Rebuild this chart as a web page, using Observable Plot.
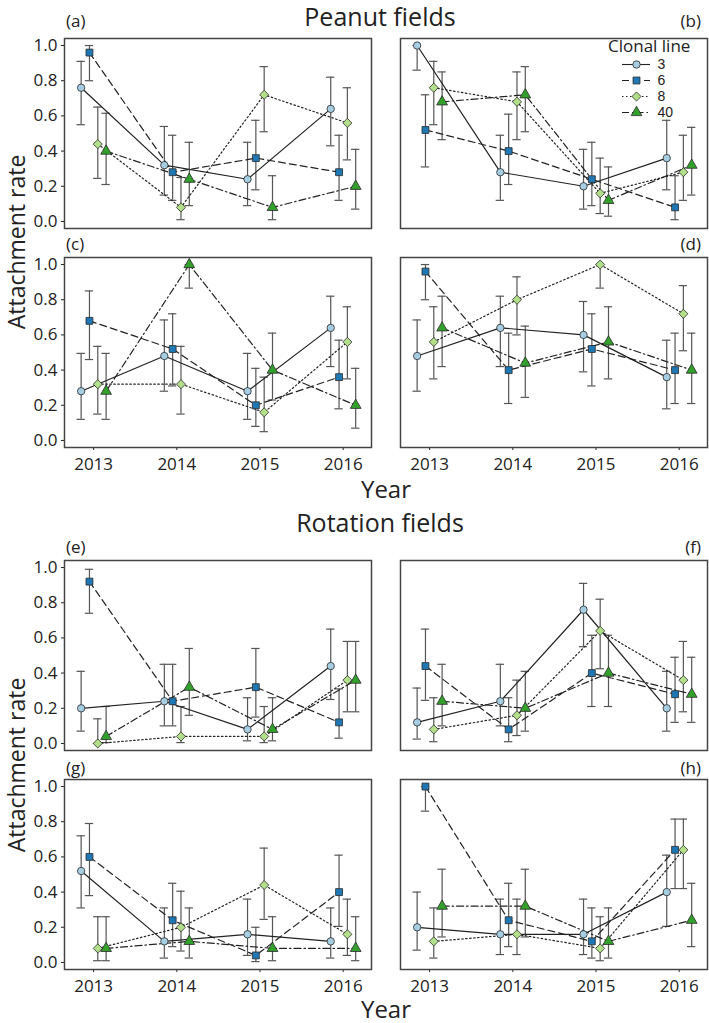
<!DOCTYPE html>
<html><head><meta charset="utf-8">
<script src="https://cdn.jsdelivr.net/npm/d3@7"></script>
<script src="https://cdn.jsdelivr.net/npm/@observablehq/plot@0.6"></script>
<style>
body{margin:0;background:#fff;}
#wrap{position:relative;width:709px;height:1023px;background:#fff;font-family:"Open Sans",sans-serif;color:#222;overflow:hidden;}
.pan{position:absolute;}
</style></head><body><div id="wrap"></div>
<script>
// ---- data ----
const years = [2013, 2014, 2015, 2016];
const clonalLines = ["3", "6", "8", "40"];
const yTicks = [0, 0.2, 0.4, 0.6, 0.8, 1.0];
const groupTitles = ["Peanut fields", "Rotation fields"];
const panelLabels = ["(a)", "(b)", "(c)", "(d)", "(e)", "(f)", "(g)", "(h)"];
const axisTitleX = "Year";
const axisTitleY = "Attachment rate";
const legendTitle = "Clonal line";

// rows = clonal lines 3, 6, 8, 40 ; columns = years
const meanA = [[0.76,0.32,0.24,0.64],[0.96,0.28,0.36,0.28],[0.44,0.08,0.72,0.56],[0.40,0.24,0.08,0.20]];
const loA   = [[0.55,0.15,0.09,0.43],[0.80,0.12,0.18,0.12],[0.245,0.01,0.51,0.35],[0.21,0.09,0.01,0.07]];
const hiA   = [[0.91,0.54,0.45,0.82],[1.00,0.49,0.575,0.49],[0.65,0.25,0.88,0.76],[0.615,0.45,0.26,0.41]];

const meanB = [[1.00,0.28,0.20,0.36],[0.52,0.40,0.24,0.08],[0.76,0.68,0.16,0.28],[0.68,0.72,0.12,0.32]];
const loB   = [[0.86,0.12,0.07,0.18],[0.31,0.21,0.09,0.01],[0.55,0.465,0.045,0.12],[0.465,0.51,0.03,0.15]];
const hiB   = [[1.00,0.49,0.41,0.575],[0.72,0.61,0.45,0.26],[0.91,0.85,0.36,0.49],[0.85,0.88,0.31,0.535]];

const meanC = [[0.28,0.48,0.28,0.64],[0.68,0.52,0.20,0.36],[0.32,0.32,0.16,0.56],[0.28,1.00,0.40,0.20]];
const loC   = [[0.12,0.28,0.12,0.42],[0.46,0.31,0.08,0.18],[0.15,0.15,0.05,0.35],[0.12,0.866,0.23,0.07]];
const hiC   = [[0.495,0.685,0.495,0.82],[0.85,0.72,0.41,0.57],[0.535,0.535,0.36,0.76],[0.495,1.00,0.61,0.41]];

const meanD = [[0.48,0.64,0.60,0.36],[0.96,0.40,0.52,0.40],[0.56,0.80,1.00,0.72],[0.64,0.44,0.56,0.40]];
const loD   = [[0.28,0.42,0.39,0.18],[0.80,0.21,0.31,0.21],[0.35,0.60,0.866,0.51],[0.42,0.245,0.35,0.21]];
const hiD   = [[0.685,0.82,0.79,0.57],[1.00,0.61,0.72,0.61],[0.76,0.93,1.00,0.88],[0.82,0.65,0.76,0.61]];

const meanE = [[0.20,0.24,0.08,0.44],[0.92,0.24,0.32,0.12],[0.00,0.04,0.04,0.36],[0.04,0.32,0.08,0.36]];
const loE   = [[0.07,0.10,0.015,0.25],[0.74,0.10,0.15,0.03],[0.00,0.005,0.005,0.18],[0.005,0.16,0.015,0.18]];
const hiE   = [[0.41,0.45,0.26,0.65],[0.99,0.45,0.54,0.31],[0.14,0.21,0.21,0.58],[0.21,0.54,0.26,0.58]];

const meanF = [[0.12,0.24,0.76,0.20],[0.44,0.08,0.40,0.28],[0.08,0.16,0.64,0.36],[0.24,0.20,0.40,0.28]];
const loF   = [[0.025,0.10,0.55,0.07],[0.245,0.01,0.21,0.12],[0.01,0.045,0.425,0.18],[0.10,0.07,0.21,0.12]];
const hiF   = [[0.315,0.45,0.91,0.41],[0.65,0.26,0.615,0.49],[0.26,0.36,0.82,0.58],[0.45,0.41,0.615,0.49]];

const meanG = [[0.52,0.12,0.16,0.12],[0.60,0.24,0.04,0.40],[0.08,0.20,0.44,0.16],[0.08,0.12,0.08,0.08]];
const loG   = [[0.31,0.025,0.04,0.025],[0.38,0.09,0.005,0.205],[0.01,0.065,0.245,0.04],[0.01,0.025,0.01,0.01]];
const hiG   = [[0.72,0.31,0.36,0.31],[0.79,0.45,0.20,0.61],[0.26,0.405,0.65,0.36],[0.26,0.31,0.26,0.26]];

const meanH = [[0.20,0.16,0.16,0.40],[1.00,0.24,0.12,0.64],[0.12,0.16,0.08,0.64],[0.32,0.32,0.12,0.24]];
const loH   = [[0.07,0.045,0.045,0.205],[0.86,0.09,0.025,0.42],[0.025,0.045,0.01,0.42],[0.145,0.145,0.025,0.09]];
const hiH   = [[0.40,0.36,0.36,0.61],[1.00,0.45,0.31,0.815],[0.31,0.36,0.26,0.815],[0.53,0.53,0.31,0.45]];

// ---- styles ----
const seriesStyle = {
  "3":  {symbol: "circle",   fill: "#a6cee3", r: 3.7, dash: null},
  "6":  {symbol: "square",   fill: "#1f78b4", r: 3.9, dash: "7,4"},
  "8":  {symbol: "diamond2", fill: "#b2df8a", r: 4.1, dash: "1.5,2.5"},
  "40": {symbol: "triangle", fill: "#33a02c", r: 4.0, dash: "7,3,1.5,3"}
};

const wrap = document.getElementById("wrap");
const FONT = "'Open Sans', sans-serif";

const BOX_H = 190;
const MT = 4;
function panel(mean, lo, hi, col, boxTop, showX) {
  const rows = [];
  clonalLines.forEach((s, i) => years.forEach((yr, j) => rows.push({
    line: s, year: yr, x: yr + (i - 1.5) * 0.1, mean: mean[i][j], lo: lo[i][j], hi: hi[i][j]
  })));
  const left = col === 0;
  const mb = showX ? 30 : 4;
  const marks = [
    Plot.ruleX(rows, {x: "x", y1: "lo", y2: "hi", stroke: "#555", strokeWidth: 1.2}),
    Plot.ruleY(rows, {y: "hi", x1: d => d.x - 0.05, x2: d => d.x + 0.05, stroke: "#555", strokeWidth: 1.2}),
    Plot.ruleY(rows, {y: "lo", x1: d => d.x - 0.05, x2: d => d.x + 0.05, stroke: "#555", strokeWidth: 1.2})
  ];
  clonalLines.forEach(s => {
    const st = seriesStyle[s];
    marks.push(Plot.line(rows.filter(d => d.line === s), {x: "x", y: "mean", stroke: "#222", strokeWidth: 1.2,
      strokeDasharray: st.dash || undefined}));
  });
  clonalLines.forEach(s => {
    const st = seriesStyle[s];
    marks.push(Plot.dot(rows.filter(d => d.line === s), {x: "x", y: "mean", symbol: st.symbol, r: st.r,
      fill: st.fill, stroke: "#2a2a2a", strokeWidth: 0.8}));
  });
  marks.push(Plot.frame({stroke: "#444", strokeWidth: 1.5}));
  const svg = Plot.plot({
    width: left ? 372 : 336,
    height: BOX_H + MT + mb,
    marginLeft: left ? 64 : 28,
    marginRight: 1,
    marginTop: MT,
    marginBottom: mb,
    style: {fontFamily: FONT, fontSize: "17px", color: "#222", background: "transparent", overflow: "visible"},
    x: {domain: [2012.65, 2016.34], ticks: years, tickFormat: d => String(d), tickSize: 3, tickPadding: 7,
        label: null, axis: showX ? "bottom" : null},
    y: {domain: [-0.04, 1.04], ticks: yTicks, tickFormat: d => d.toFixed(1), tickSize: 3, tickPadding: 4,
        label: null, axis: left ? "left" : null},
    marks
  });
  svg.classList.add("pan");
  svg.style.position = "absolute";
  svg.style.left = (left ? 0 : 372) + "px";
  svg.style.top = (boxTop - MT) + "px";
  svg.style.maxWidth = "none";
  wrap.appendChild(svg);
}

const panelTops = [38, 257, 560, 779];
panel(meanA, loA, hiA, 0, panelTops[0], false);
panel(meanB, loB, hiB, 1, panelTops[0], false);
panel(meanC, loC, hiC, 0, panelTops[1], true);
panel(meanD, loD, hiD, 1, panelTops[1], true);
panel(meanE, loE, hiE, 0, panelTops[2], false);
panel(meanF, loF, hiF, 1, panelTops[2], false);
panel(meanG, loG, hiG, 0, panelTops[3], true);
panel(meanH, loH, hiH, 1, panelTops[3], true);

// ---- text overlay (SVG) ----
const ov = d3.create("svg").attr("width", 709).attr("height", 1023)
  .style("position", "absolute").style("left", "0px").style("top", "0px")
  .style("pointer-events", "none").style("overflow", "visible")
  .attr("font-family", FONT).attr("fill", "#222");
function txt(t, x, y, size, anchor, rot, baseline) {
  const e = ov.append("text").text(t).attr("font-size", size).attr("text-anchor", anchor);
  if (baseline !== "alpha") e.attr("dominant-baseline", "central");
  if (rot) e.attr("transform", `translate(${x},${y}) rotate(${rot})`);
  else e.attr("x", x).attr("y", y);
  return e;
}
const letterY = [20, 20, 243, 243, 546, 546, 767, 767];
panelLabels.forEach((t, i) => txt(t, i % 2 === 0 ? 66 : 701, letterY[i], 17, i % 2 === 0 ? "start" : "end"));
txt(groupTitles[0], 380, 16, 25, "middle");
txt(groupTitles[1], 380, 522, 25, "middle");
txt(axisTitleX, 386, 488, 24, "middle");
txt(axisTitleX, 386, 1008, 24, "middle");
txt(axisTitleY, 25, 242, 23, "middle", -90, "alpha");
txt(axisTitleY, 25, 765, 23, "middle", -90, "alpha");
txt(legendTitle, 608, 45, 17, "start");
wrap.appendChild(ov.node());

// ---- legend ----
const legMarks = [];
clonalLines.forEach(s => {
  const st = seriesStyle[s];
  legMarks.push(Plot.ruleY([s], {y: d => d, x1: 0, x2: 1, stroke: "#222", strokeWidth: 1.1, strokeDasharray: st.dash || undefined}));
  legMarks.push(Plot.dot([s], {x: 0.5, y: d => d, symbol: st.symbol, r: st.r, fill: st.fill, stroke: "#2a2a2a", strokeWidth: 0.8}));
});
legMarks.push(Plot.text(clonalLines, {x: 1, y: d => d, text: d => d, dx: 7, textAnchor: "start", fill: "#222"}));
const leg = Plot.plot({
  width: 90, height: 70, margin: 0,
  style: {fontFamily: "'Liberation Sans', Arial, sans-serif", fontSize: "14px", background: "transparent", overflow: "visible"},
  x: {domain: [0, 1], range: [4, 32], axis: null},
  y: {type: "point", domain: clonalLines, range: [12, 60], padding: 0, axis: null},
  marks: legMarks
});
leg.style.position = "absolute";
leg.style.left = "618px";
leg.style.top = "52px";
leg.style.maxWidth = "none";
wrap.appendChild(leg);
</script></body></html>
